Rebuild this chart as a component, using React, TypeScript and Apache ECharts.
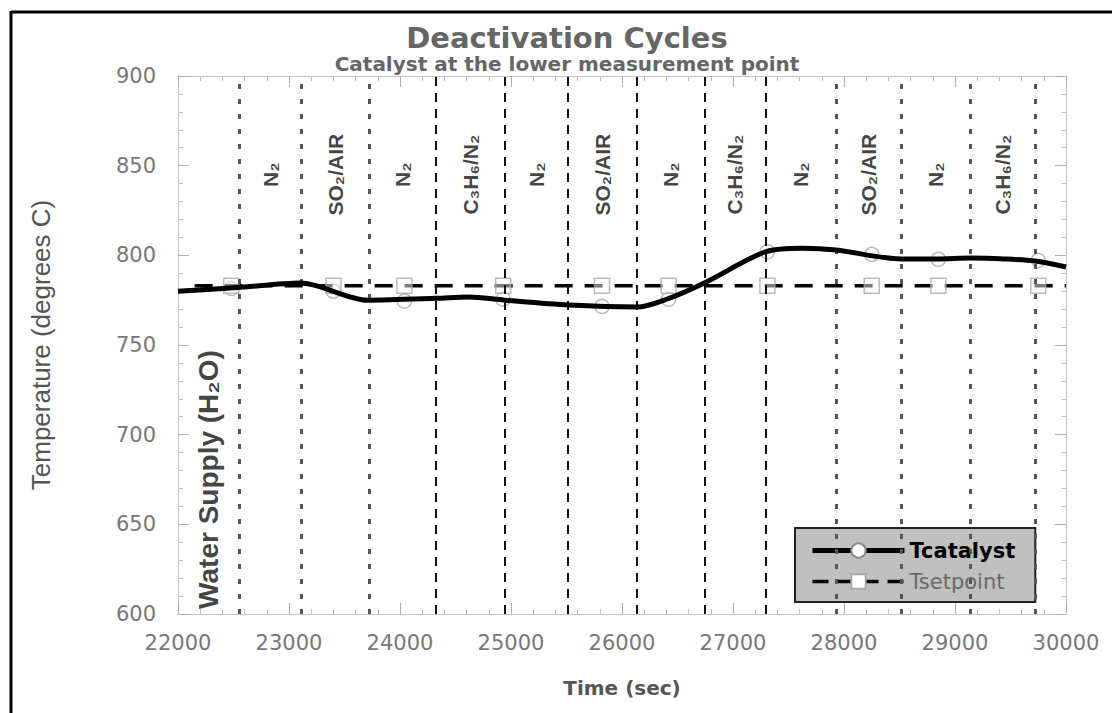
import React, { useEffect, useRef } from "react";
import * as echarts from "echarts";

// ---- data ----
const catalystTime = [22000, 22534, 23104, 23710, 24326, 24615, 24941, 25520, 26136, 26400, 26742, 27294, 27629, 27928, 28516, 28833, 29140, 29439, 29719, 30000];
const catalystTemp = [780, 782, 784.6, 775, 776, 776.8, 775, 772.3, 771.2, 775.5, 784.6, 802, 804, 803, 798, 798, 798.5, 798, 796.8, 793.5];
const setpointTime = [22150, 30000];
const setpointTemp = [783, 783];
const markerTime = [22480, 23400, 24040, 24930, 25820, 26420, 27310, 28250, 28850, 29750];
const catalystMarkerTemp = [781.5, 780, 774.5, 775.5, 771.5, 775.5, 802, 800.5, 797.8, 797.2];
const setpointMarkerTemp = [783, 783, 783, 783, 783, 783, 783, 783, 783, 783];
const phaseBoundaries = [22552, 23113, 23719, 24326, 24941, 25511, 26136, 26742, 27294, 27928, 28516, 29140, 29719];
const boundaryKinds = ["dotted", "dotted", "dotted", "dashed", "dashed", "dashed", "dashed", "dashed", "dashed", "dotted", "dotted", "dotted", "dotted"];
const phaseLabels = ["N₂", "SO₂/AIR", "N₂", "C₃H₆/N₂", "N₂", "SO₂/AIR", "N₂", "C₃H₆/N₂", "N₂", "SO₂/AIR", "N₂", "C₃H₆/N₂"];
const phaseLabelTime = [22832, 23416, 24022, 24633, 25226, 25823, 26439, 27018, 27611, 28222, 28828, 29430];
const phaseLabelTemp = 845;
const waterLabel = "Water Supply (H₂O)";
const waterLabelTime = 22271;
const waterLabelTemp = 675;
const xTicks = { min: 22000, max: 30000, interval: 1000 };
const yTicks = { min: 600, max: 900, interval: 50 };

const NARROW = "'Liberation Sans', Arial, sans-serif";
const WIDE = "'DejaVu Sans', sans-serif";

export default function App() {
  const ref = useRef<HTMLDivElement>(null);
  useEffect(() => {
    if (!ref.current) return;
    const chart = echarts.init(ref.current, undefined, { renderer: "svg" });

    const axisCommon = {
      type: "value",
      axisLine: { show: true, onZero: false, lineStyle: { color: "#c4c4c4", width: 1 } },
      axisTick: { show: true, inside: true, length: 11, lineStyle: { color: "#b0b0b0" } },
      minorTick: { show: true, splitNumber: 5, length: 5, lineStyle: { color: "#c0c0c0" } },
      splitLine: { show: false },
      minorSplitLine: { show: false },
    };

    const option: any = {
      animation: false,
      backgroundColor: "#ffffff",
      grid: { left: 178, right: 46, top: 76, bottom: 99, containLabel: false },
      xAxis: [
        {
          ...axisCommon,
          position: "bottom",
          min: xTicks.min,
          max: xTicks.max,
          interval: xTicks.interval,
          axisLabel: { color: "#777", fontSize: 21, fontFamily: WIDE, margin: 18, formatter: (v: number) => String(v) },
          name: "Time (sec)",
          nameLocation: "middle",
          nameGap: 64,
          nameTextStyle: { color: "#555", fontSize: 20, fontWeight: "bold", fontFamily: WIDE },
        },
        {
          ...axisCommon,
          position: "top",
          min: xTicks.min,
          max: xTicks.max,
          interval: xTicks.interval,
          axisLabel: { show: false },
        },
      ],
      yAxis: [
        {
          ...axisCommon,
          position: "left",
          min: yTicks.min,
          max: yTicks.max,
          interval: yTicks.interval,
          axisLabel: { color: "#777", fontSize: 21, fontFamily: WIDE, margin: 22 },
          name: "Temperature (degrees C)",
          nameLocation: "middle",
          nameRotate: 90,
          nameGap: 124,
          nameTextStyle: { color: "#555", fontSize: 26, fontFamily: NARROW },
        },
        {
          ...axisCommon,
          position: "right",
          min: yTicks.min,
          max: yTicks.max,
          interval: yTicks.interval,
          axisLabel: { show: false },
        },
      ],
      legend: {
        orient: "vertical",
        left: 795,
        top: 528,
        backgroundColor: "#c0c0c0",
        borderColor: "#222",
        borderWidth: 2,
        borderRadius: 0,
        padding: [12, 20, 10, 15],
        itemWidth: 92,
        itemHeight: 18,
        itemGap: 10,
        textStyle: { fontSize: 21, fontFamily: WIDE },
        data: [
          { name: "Tcatalyst", textStyle: { color: "#000", fontWeight: "bold" }, lineStyle: { color: "#000", width: 5 } },
          { name: "Tsetpoint", textStyle: { color: "#6a6a6a", fontWeight: "normal" }, lineStyle: { color: "#000", width: 3.5, type: [16, 9] } },
        ],
      },
      graphic: [
        { type: "line", shape: { x1: 11, y1: 12, x2: 1112, y2: 12 }, style: { stroke: "#000", lineWidth: 3 } },
        { type: "line", shape: { x1: 11, y1: 11, x2: 11, y2: 713 }, style: { stroke: "#000", lineWidth: 3 } },
        {
          type: "text",
          x: 567,
          y: 38,
          style: { text: "Deactivation Cycles", fill: "#666", fontSize: 29, fontWeight: "bold", fontFamily: WIDE, align: "center", verticalAlign: "middle" },
        },
        {
          type: "text",
          x: 567,
          y: 64,
          style: { text: "Catalyst at the lower measurement point", fill: "#666", fontSize: 20, fontWeight: "bold", fontFamily: WIDE, align: "center", verticalAlign: "middle" },
        },
      ],
      series: [
        {
          name: "phases",
          type: "scatter",
          xAxisIndex: 0,
          yAxisIndex: 0,
          z: 1,
          symbolSize: 1,
          itemStyle: { color: "transparent" },
          silent: true,
          data: [
            ...phaseLabelTime.map((t, i) => [t, phaseLabelTemp, phaseLabels[i], 21]),
            [waterLabelTime, waterLabelTemp, waterLabel, 29],
          ],
          label: {
            show: true,
            position: "inside",
            rotate: 90,
            formatter: (p: any) => `{s${p.data[3]}|${p.data[2]}}`,
            color: "#111",
            fontWeight: "bold",
            fontFamily: NARROW,
            rich: {
              s21: { fontSize: 21, fontWeight: "bold", fontFamily: NARROW, color: "#111" },
              s29: { fontSize: 28, fontWeight: "bold", fontFamily: NARROW, color: "#111" },
            },
          },
          labelLayout: { hideOverlap: false },
          markLine: {
            silent: true,
            symbol: "none",
            label: { show: false },
            data: phaseBoundaries.map((t, i) => ({
              xAxis: t,
              lineStyle:
                boundaryKinds[i] === "dotted"
                  ? { color: "#555", width: 3, type: [5, 10] }
                  : { color: "#111", width: 2, type: [9, 7] },
            })),
          },
        },
        {
          name: "catalystMarkers",
          type: "scatter",
          z: 2,
          symbol: "circle",
          symbolSize: 14,
          itemStyle: { color: "transparent", borderColor: "#aaa", borderWidth: 1.5 },
          data: markerTime.map((t, i) => [t, catalystMarkerTemp[i]]),
          silent: true,
        },
        {
          name: "Tsetpoint",
          type: "line",
          z: 3,
          symbol: "emptyRect",
          symbolSize: 14,
          showSymbol: false,
          itemStyle: { color: "#aaa", borderWidth: 1.5 },
          lineStyle: { color: "#000", width: 3.5, type: [18, 12] },
          data: setpointTime.map((t, i) => [t, setpointTemp[i]]),
        },
        {
          name: "setpointMarkers",
          type: "scatter",
          z: 4,
          symbol: "rect",
          symbolSize: 15,
          itemStyle: { color: "rgba(255,255,255,0.6)", borderColor: "#aaa", borderWidth: 1.5 },
          data: markerTime.map((t, i) => [t, setpointMarkerTemp[i]]),
          silent: true,
        },
        {
          name: "Tcatalyst",
          type: "line",
          z: 5,
          smooth: 0.3,
          symbol: "emptyCircle",
          symbolSize: 14,
          showSymbol: false,
          itemStyle: { color: "#888", borderWidth: 1.5 },
          lineStyle: { color: "#000", width: 5 },
          data: catalystTime.map((t, i) => [t, catalystTemp[i]]),
        },
      ],
    };

    chart.setOption(option);
    return () => chart.dispose();
  }, []);

  return (
    <div
      ref={ref}
      style={{ position: "fixed", left: 0, top: 0, width: 1112, height: 713, background: "#fff" }}
    />
  );
}
